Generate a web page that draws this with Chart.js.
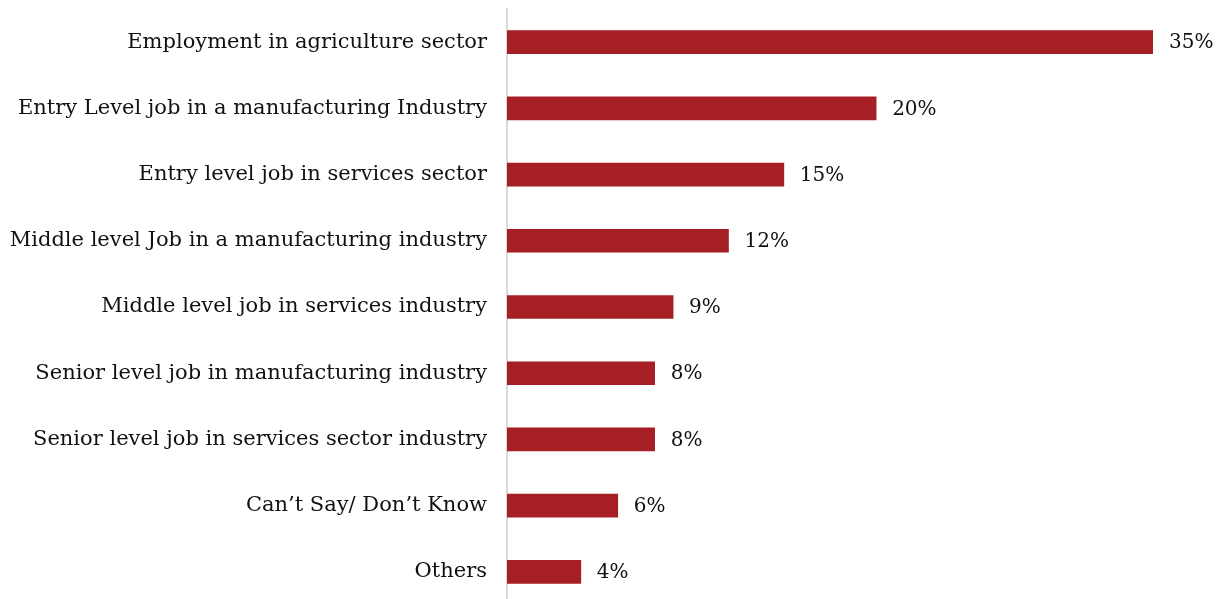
<!DOCTYPE html>
<html>
<head>
<meta charset="utf-8">
<script src="https://cdn.jsdelivr.net/npm/chart.js@4/dist/chart.umd.min.js"></script>
<style>
  html, body { margin: 0; padding: 0; background: #fff; overflow: hidden; }
  #wrap { width: 1226px; height: 605px; position: relative; }
</style>
</head>
<body>
<div id="wrap"><canvas id="chart"></canvas></div>
<script>
// job preference categories and share of respondents (%)
const categories = [
  'Employment in agriculture sector',
  'Entry Level job in a manufacturing Industry',
  'Entry level job in services sector',
  'Middle level Job in a manufacturing industry',
  'Middle level job in services industry',
  'Senior level job in manufacturing industry',
  'Senior level job in services sector industry',
  'Can\u2019t Say/ Don\u2019t Know',
  'Others'
];
const shares = [35, 20, 15, 12, 9, 8, 8, 6, 4];

const FONT = '"DejaVu Serif", Georgia, serif';

// writes "NN%" just past the end of each bar
const valueLabels = {
  id: 'valueLabels',
  afterDatasetsDraw(chart) {
    const { ctx } = chart;
    const meta = chart.getDatasetMeta(0);
    ctx.save();
    ctx.font = '20px ' + FONT;
    ctx.fillStyle = '#111';
    ctx.textAlign = 'left';
    ctx.textBaseline = 'middle';
    meta.data.forEach((bar, i) => {
      ctx.fillText(shares[i] + '%', bar.x + 16, bar.y + 1);
    });
    ctx.restore();
  }
};

new Chart(document.getElementById('chart'), {
  type: 'bar',
  data: {
    labels: categories,
    datasets: [{
      data: shares,
      backgroundColor: '#A51F24',
      barThickness: 23
    }]
  },
  options: {
    indexAxis: 'y',
    responsive: true,
    maintainAspectRatio: false,
    animation: false,
    layout: { padding: { top: 9, right: 73, bottom: 0, left: 0 } },
    plugins: {
      legend: { display: false },
      tooltip: { enabled: false }
    },
    scales: {
      x: {
        display: false,
        min: 0,
        max: 35
      },
      y: {
        grid: { display: false, drawTicks: false },
        border: { display: true, color: '#d9d9d9', width: 2 },
        ticks: {
          padding: 20,
          color: '#111',
          font: { family: FONT, size: 21 }
        },
        afterFit(scale) {
          scale.width = 507;
          scale.paddingTop = 0;
          scale.paddingBottom = 0;
        }
      }
    }
  },
  plugins: [valueLabels]
});
</script>
</body>
</html>
